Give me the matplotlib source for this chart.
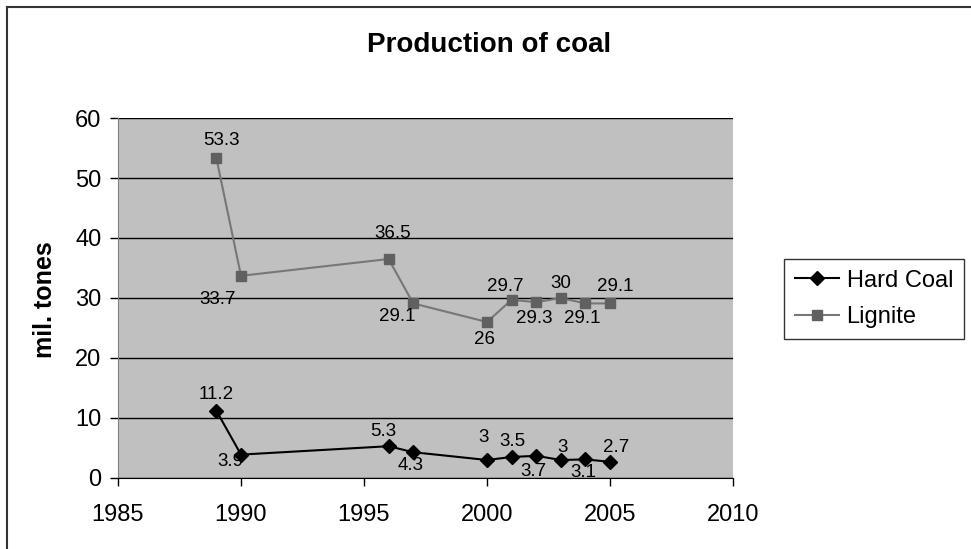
import matplotlib.pyplot as plt
from matplotlib.lines import Line2D

plt.rcParams['font.family'] = ['Liberation Sans', 'DejaVu Sans']

# Data
years = [1989, 1990, 1996, 1997, 2000, 2001, 2002, 2003, 2004, 2005]
hard_coal = [11.2, 3.9, 5.3, 4.3, 3, 3.5, 3.7, 3, 3.1, 2.7]
lignite = [53.3, 33.7, 36.5, 29.1, 26, 29.7, 29.3, 30, 29.1, 29.1]
hard_labels = ["11.2", "3.9", "5.3", "4.3", "3", "3.5", "3.7", "3", "3.1", "2.7"]
lignite_labels = ["53.3", "33.7", "36.5", "29.1", "26", "29.7", "29.3", "30", "29.1", "29.1"]
x_ticks = [1985, 1990, 1995, 2000, 2005, 2010]
y_ticks = [0, 10, 20, 30, 40, 50, 60]

# label offsets in pixels (dx right, dy up) relative to each marker
hard_off = [(0, 16), (-11, -7), (-5, 15), (-3, -13), (-3, 23), (1, 15),
            (-3, -16), (2, 13), (-2, -13), (6, 14)]
lig_off = [(5, 18), (-23, -24), (4, 25), (-16, -13), (-2, -17), (-6, 13),
           (-2, -16), (0, 15), (-3, -15), (5, 17)]

fig = plt.figure(figsize=(9.71, 5.49), dpi=100)
ax = fig.add_axes([118 / 971, 1 - 478 / 549, 615 / 971, 360 / 549])
ax.set_facecolor('#c0c0c0')

ax.plot(years, hard_coal, color='black', lw=1.5, marker='D', ms=7,
        mfc='black', mec='black', label='Hard Coal', zorder=3)
ax.plot(years, lignite, color='#777777', lw=1.5, marker='s', ms=7.5,
        mfc='#606060', mec='#606060', label='Lignite', zorder=3)

px = 0.72  # points per pixel at dpi 100
for x, y, t, (dx, dy) in zip(years, hard_coal, hard_labels, hard_off):
    ax.annotate(t, (x, y), xytext=(dx * px, dy * px), textcoords='offset points',
                ha='center', va='center', fontsize=13.5, zorder=4)
for x, y, t, (dx, dy) in zip(years, lignite, lignite_labels, lig_off):
    ax.annotate(t, (x, y), xytext=(dx * px, dy * px), textcoords='offset points',
                ha='center', va='center', fontsize=13.5, zorder=4)

ax.set_xlim(1985, 2010)
ax.set_ylim(0, 60)
ax.set_xticks(x_ticks)
ax.set_yticks(y_ticks)
ax.yaxis.grid(True, color='black', lw=1)
ax.set_axisbelow(True)
ax.tick_params(axis='both', labelsize=17, direction='out', length=6, width=1, color='black')
ax.tick_params(axis='x', pad=13)
ax.tick_params(axis='y', pad=6)

ax.spines['top'].set_visible(False)
ax.spines['right'].set_visible(False)
ax.spines['left'].set_color('#808080')
ax.spines['bottom'].set_color('black')

fig.text(489 / 971, 1 - 45 / 549, 'Production of coal', ha='center', va='center',
         fontsize=20, fontweight='bold')
fig.text(45 / 971, 1 - 300 / 549, 'mil. tones', ha='center', va='center',
         rotation=90, fontsize=18, fontweight='bold')

leg = fig.legend(loc='upper left', bbox_to_anchor=(784 / 971, 1 - 259 / 549),
                 fontsize=17, frameon=True, fancybox=False, handlelength=1.9,
                 handletextpad=0.3, borderpad=0.45, labelspacing=0.62,
                 borderaxespad=0)
leg.get_frame().set_edgecolor('black')
leg.get_frame().set_linewidth(1)

# outer chart frame (only top and left edges are visible in the crop)
fig.add_artist(Line2D([7 / 971, 7 / 971], [0, 1 - 7 / 549], color='#333333', lw=1.5))
fig.add_artist(Line2D([7 / 971, 1], [1 - 7 / 549, 1 - 7 / 549], color='#333333', lw=1.5))

fig.savefig('out.png', dpi=100)
